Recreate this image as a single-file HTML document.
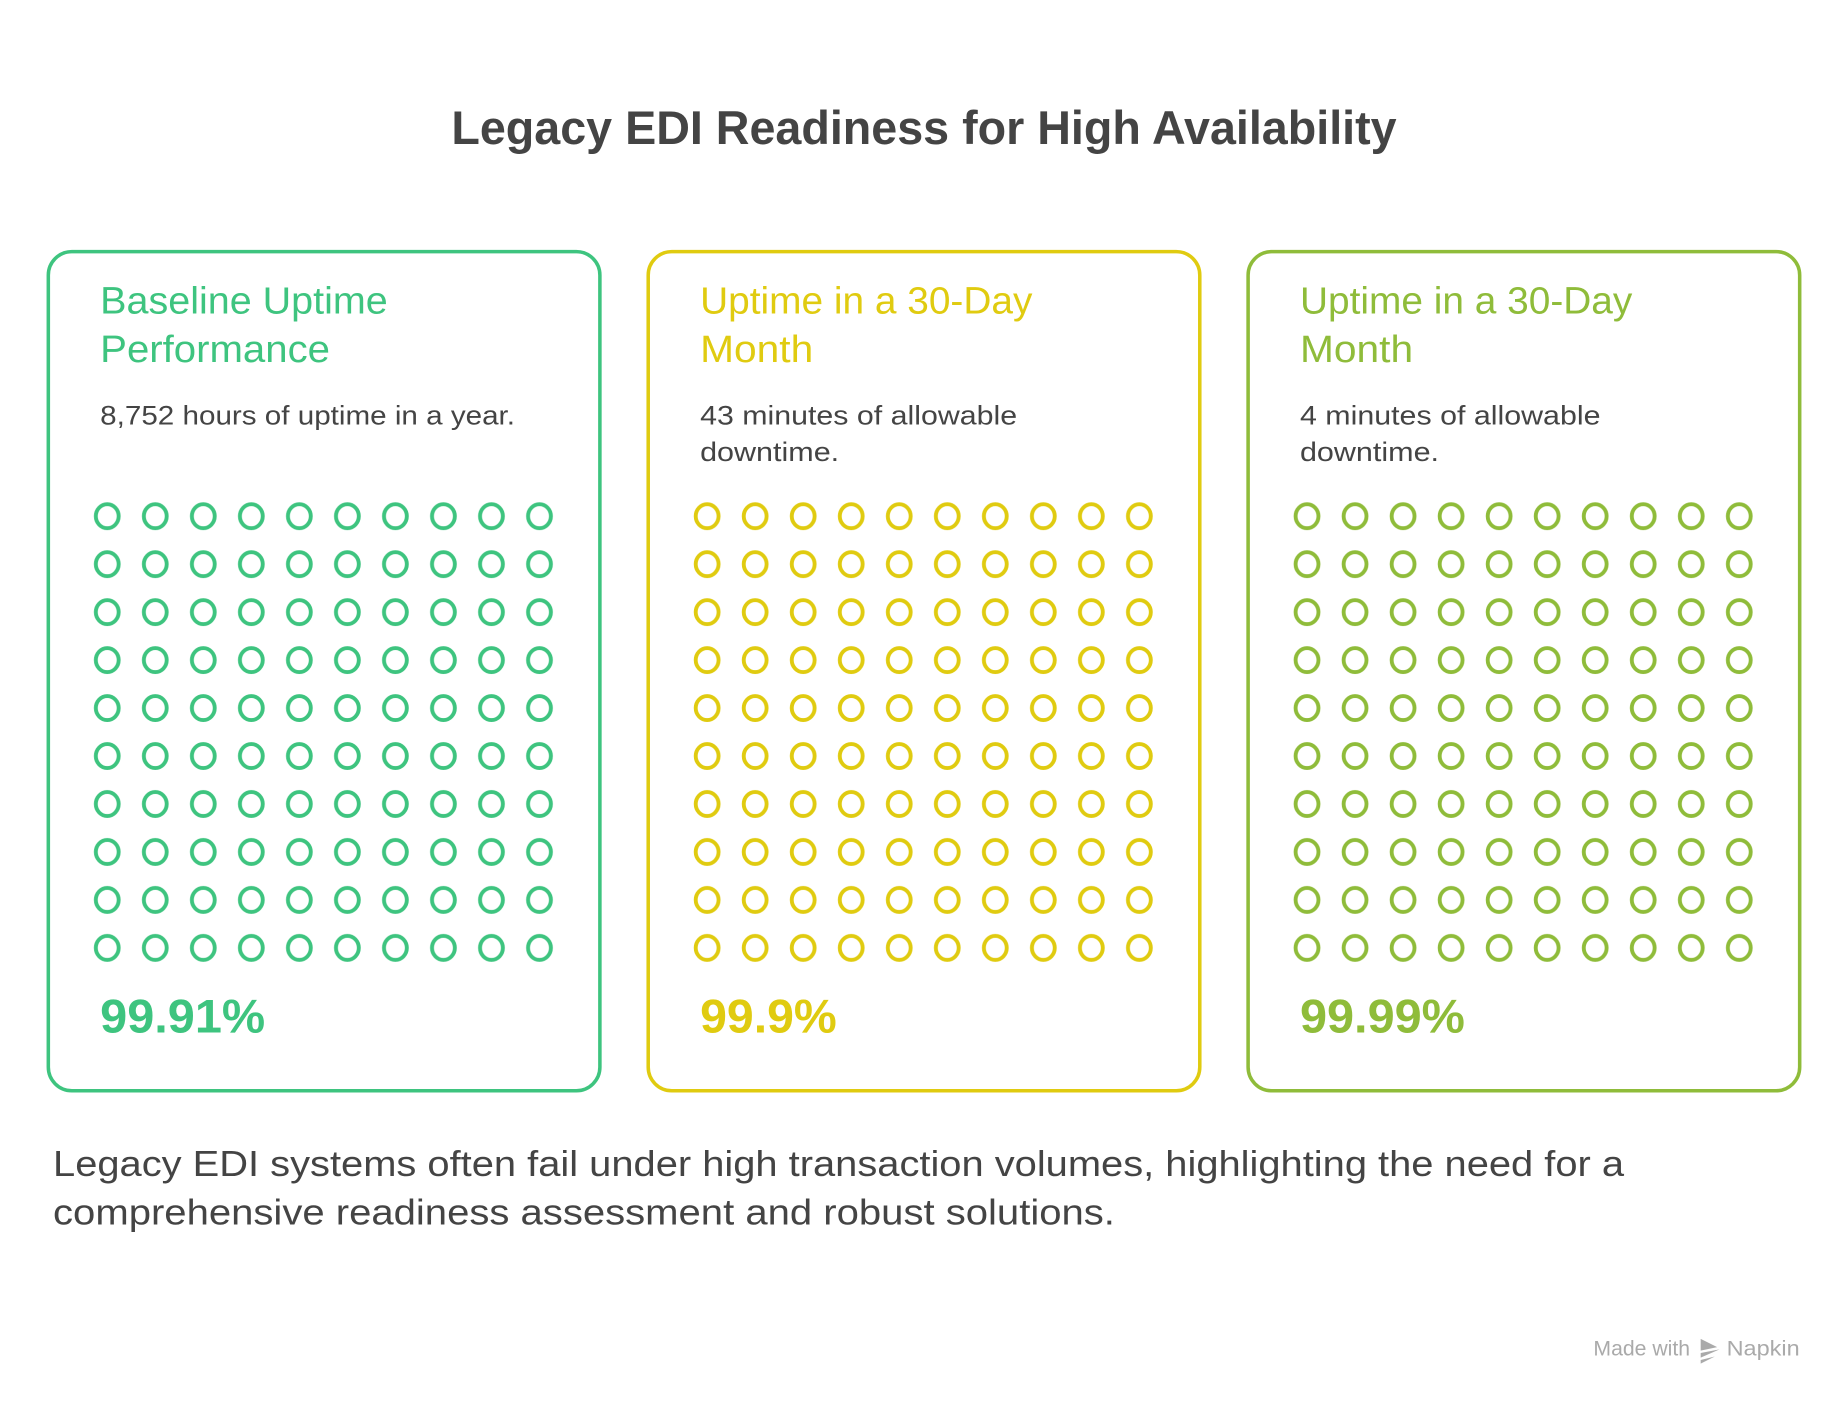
<!DOCTYPE html>
<html><head><meta charset="utf-8"><style>
html,body{margin:0;padding:0;background:#fff;}
svg{display:block;}
text{font-family:"Liberation Sans",sans-serif;}
</style></head><body>
<svg width="1848" height="1404" viewBox="0 0 1568 1191.3" preserveAspectRatio="none" xmlns="http://www.w3.org/2000/svg">
<defs>
<pattern id="pg" x="70.6" y="417.6" width="40.75" height="40.7" patternUnits="userSpaceOnUse"><ellipse cx="20.4" cy="20.4" rx="9.7" ry="10.2" fill="none" stroke="#3ec47f" stroke-width="3.3"/></pattern>
<pattern id="py" x="579.6" y="417.6" width="40.75" height="40.7" patternUnits="userSpaceOnUse"><ellipse cx="20.4" cy="20.4" rx="9.7" ry="10.2" fill="none" stroke="#e0cb10" stroke-width="3.3"/></pattern>
<pattern id="pl" x="1088.6" y="417.6" width="40.75" height="40.7" patternUnits="userSpaceOnUse"><ellipse cx="20.4" cy="20.4" rx="9.7" ry="10.2" fill="none" stroke="#8fbc3a" stroke-width="3.3"/></pattern>
</defs>
<text x="784" y="122" text-anchor="middle" font-size="40" font-weight="bold" fill="#444" textLength="802" lengthAdjust="spacingAndGlyphs">Legacy EDI Readiness for High Availability</text>

<rect x="41" y="213.5" width="468" height="712" rx="20" fill="none" stroke="#3ec47f" stroke-width="3"/>
<rect x="550" y="213.5" width="468" height="712" rx="20" fill="none" stroke="#e0cb10" stroke-width="3"/>
<rect x="1059" y="213.5" width="468" height="712" rx="20" fill="none" stroke="#8fbc3a" stroke-width="3"/>

<g font-size="32" fill="#3ec47f"><text x="85" y="266" textLength="244" lengthAdjust="spacingAndGlyphs">Baseline Uptime</text><text x="85" y="307" textLength="195" lengthAdjust="spacingAndGlyphs">Performance</text></g>
<g font-size="32" fill="#e0cb10"><text x="594" y="266" textLength="282" lengthAdjust="spacingAndGlyphs">Uptime in a 30-Day</text><text x="594" y="307" textLength="96" lengthAdjust="spacingAndGlyphs">Month</text></g>
<g font-size="32" fill="#8fbc3a"><text x="1103" y="266" textLength="282" lengthAdjust="spacingAndGlyphs">Uptime in a 30-Day</text><text x="1103" y="307" textLength="96" lengthAdjust="spacingAndGlyphs">Month</text></g>

<g font-size="23" fill="#444">
<text x="85" y="360" textLength="352" lengthAdjust="spacingAndGlyphs">8,752 hours of uptime in a year.</text>
<text x="594" y="360" textLength="269" lengthAdjust="spacingAndGlyphs">43 minutes of allowable</text><text x="594" y="391" textLength="118" lengthAdjust="spacingAndGlyphs">downtime.</text>
<text x="1103" y="360" textLength="255" lengthAdjust="spacingAndGlyphs">4 minutes of allowable</text><text x="1103" y="391" textLength="118" lengthAdjust="spacingAndGlyphs">downtime.</text>
</g>

<rect x="70.6" y="417.6" width="407.5" height="407" fill="url(#pg)"/>
<rect x="579.6" y="417.6" width="407.5" height="407" fill="url(#py)"/>
<rect x="1088.6" y="417.6" width="407.5" height="407" fill="url(#pl)"/>

<g font-size="40" font-weight="bold">
<text x="85" y="876" fill="#3ec47f" textLength="140" lengthAdjust="spacingAndGlyphs">99.91%</text>
<text x="594" y="876" fill="#e0cb10" textLength="116" lengthAdjust="spacingAndGlyphs">99.9%</text>
<text x="1103" y="876" fill="#8fbc3a" textLength="140" lengthAdjust="spacingAndGlyphs">99.99%</text>
</g>

<g font-size="31" fill="#444">
<text x="45" y="998" textLength="1333" lengthAdjust="spacingAndGlyphs">Legacy EDI systems often fail under high transaction volumes, highlighting the need for a</text>
<text x="45" y="1039" textLength="901" lengthAdjust="spacingAndGlyphs">comprehensive readiness assessment and robust solutions.</text>
</g>

<text x="1434" y="1150" text-anchor="end" font-size="18" fill="#aaa">Made with</text>
<g fill="#aaa"><path d="M1443 1136 l14 7 -14 3z M1443 1148 l16 -3 -16 7z M1443 1154 l12 -3 -12 6z"/></g>
<text x="1527" y="1150" text-anchor="end" font-size="18" fill="#aaa" textLength="62" lengthAdjust="spacingAndGlyphs">Napkin</text>
</svg>
</body></html>
